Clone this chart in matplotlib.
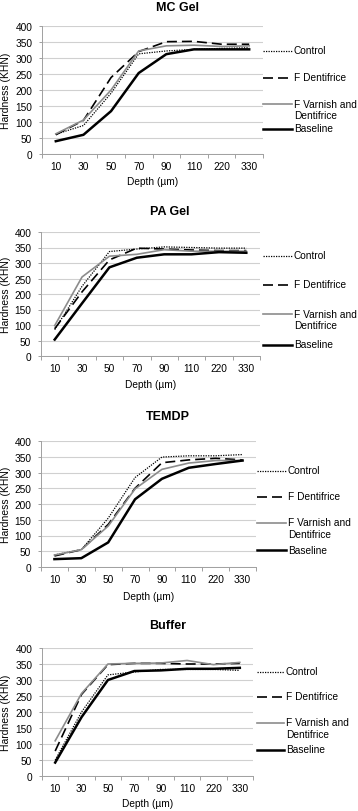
import numpy as np
import matplotlib
matplotlib.use("Agg")
import matplotlib.pyplot as plt
from matplotlib.lines import Line2D

plt.rcParams['font.family'] = ['Liberation Sans', 'DejaVu Sans']

# Data: Knoop hardness by depth, one panel per treatment gel
depths = ["10", "30", "50", "70", "90", "110", "220", "330"]
series_names = ["Control", "F Dentifrice", "F Varnish and\nDentifrice", "Baseline"]
panel_titles = ["MC Gel", "PA Gel", "TEMDP", "Buffer"]

mc_control = [62, 89, 190, 313, 322, 327, 330, 332]
mc_dentifrice = [60, 105, 239, 320, 351, 352, 343, 343]
mc_varnish = [63, 106, 200, 322, 338, 340, 336, 338]
mc_baseline = [40, 60, 134, 253, 312, 327, 327, 327]

pa_control = [85, 225, 337, 345, 352, 350, 348, 348]
pa_dentifrice = [88, 207, 310, 348, 345, 342, 340, 340]
pa_varnish = [98, 255, 322, 328, 343, 338, 338, 338]
pa_baseline = [53, 170, 286, 317, 328, 328, 335, 333]

te_control = [38, 55, 155, 284, 349, 353, 353, 357]
te_dentifrice = [35, 55, 135, 250, 331, 340, 345, 340]
te_varnish = [38, 55, 130, 248, 310, 330, 338, 338]
te_baseline = [25, 28, 78, 215, 280, 315, 327, 338]

bu_control = [50, 200, 316, 325, 333, 333, 333, 330]
bu_dentifrice = [78, 255, 348, 352, 352, 350, 350, 352]
bu_varnish = [110, 258, 350, 352, 353, 361, 348, 355]
bu_baseline = [42, 184, 300, 328, 330, 335, 335, 338]

panels = [
    [mc_control, mc_dentifrice, mc_varnish, mc_baseline],
    [pa_control, pa_dentifrice, pa_varnish, pa_baseline],
    [te_control, te_dentifrice, te_varnish, te_baseline],
    [bu_control, bu_dentifrice, bu_varnish, bu_baseline],
]

# line styles for each series
styles = [
    dict(color="black", lw=0.9, linestyle=(0, (1, 1))),
    dict(color="black", lw=1.2, linestyle=(0, (6, 3))),
    dict(color="#8c8c8c", lw=1.2, linestyle="-"),
    dict(color="black", lw=1.8, linestyle="-"),
]

W, H = 358, 812
FS = 7.3
# layout in pixels (from top-left)
boxes = [  # left, right, top, bottom of plot area
    (42, 263, 27, 155),
    (41, 260, 233, 357),
    (41, 256, 442, 568),
    (42, 253, 649, 777),
]
title_pos = [(177, 8), (170, 212), (168, 417), (168, 626)]
xlabel_y = [182, 385, 597, 804]
# legend: line x-start, line x-end, text x, entry y's
legend_x = [(263, 292, 294), (263, 292, 294), (257, 286, 288), (257, 284, 286)]
legend_y = [(52, 79, 105, 130), (257, 286, 315, 346),
            (472, 498, 524, 551), (673, 698, 724, 751)]


def fx(px):
    return px / W


def fy(py):
    return 1 - py / H


fig = plt.figure(figsize=(W / 100, H / 100), dpi=100)

x = np.arange(len(depths))
for i, (vals, box) in enumerate(zip(panels, boxes)):
    l, r, t, b = box
    ax = fig.add_axes([fx(l), fy(b), (r - l) / W, (b - t) / H])
    for v, name, st in zip(vals, series_names, styles):
        ax.plot(x, v, label=name, **st)

    ax.set_xlim(-0.5, len(depths) - 0.5)
    ax.set_ylim(0, 400)
    ax.set_yticks(np.arange(0, 401, 50))
    ax.yaxis.grid(True, color="#d0d0d0", lw=0.8)
    ax.set_axisbelow(True)
    ax.set_xticks(x)
    ax.set_xticklabels(depths)
    ax.set_xticks(np.arange(-0.5, len(depths), 1), minor=True)
    ax.tick_params(axis="x", which="major", length=0, labelsize=FS, pad=5)
    ax.tick_params(axis="x", which="minor", length=3, color="#a0a0a0", width=0.7)
    ax.tick_params(axis="y", length=2.5, color="#a0a0a0", width=0.7, labelsize=FS, pad=4.5)
    for s in ["top", "right"]:
        ax.spines[s].set_visible(False)
    for s in ["left", "bottom"]:
        ax.spines[s].set_color("#a0a0a0")
        ax.spines[s].set_linewidth(0.7)

    fig.text(fx(6), fy((t + b) / 2), "Hardness (KHN)", rotation=90,
             ha="center", va="center", fontsize=7.5)
    fig.text(fx((l + r) / 2), fy(xlabel_y[i]), "Depth (\u00b5m)",
             ha="center", va="center", fontsize=FS)
    tx, ty = title_pos[i]
    fig.text(fx(tx), fy(ty), panel_titles[i], ha="center", va="center",
             fontsize=9, fontweight="bold")

    # legend keys to the right of the plot, Excel style
    x0, x1, xt = legend_x[i]
    for name, st, yy in zip(series_names, styles, legend_y[i]):
        fig.add_artist(Line2D([fx(x0), fx(x1)], [fy(yy), fy(yy)], **st))
        fig.text(fx(xt), fy(yy), name, ha="left", va="top", fontsize=FS,
                 linespacing=1.15, transform=fig.transFigure)

# shift legend text so the first line is centred on its key
for t in fig.texts:
    if t.get_text() in series_names:
        x_, y_ = t.get_position()
        t.set_position((x_, y_ + 5.5 / H))

fig.savefig("out.png", dpi=100)
